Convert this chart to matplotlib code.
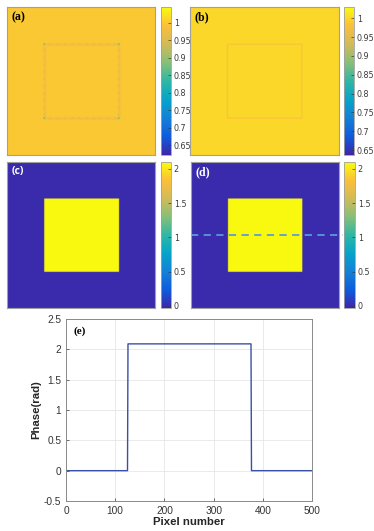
import numpy as np
import matplotlib
matplotlib.use("Agg")
import matplotlib.pyplot as plt
from matplotlib.colors import LinearSegmentedColormap

# ---------------- data ----------------
N = 500                      # image size (pixels)
sq_lo, sq_hi = 125, 376      # square object extent (pixel index)
bg_a, corner_a = 1.0, 0.88                       # panel (a) values
zigzag_a = [0.965, 0.978, 0.99, 0.978]           # edge artifact cycle (a)
bg_b, edge_b = 1.0, 0.975                        # panel (b) values
phase_bg, phase_sq = 0.0, 2.09                   # panels (c),(d) values
clim_ab_a = (0.622, 1.045)
clim_ab_b = (0.637, 1.03)
clim_cd = (-0.03, 2.1)
ticks_ab = [0.65, 0.7, 0.75, 0.8, 0.85, 0.9, 0.95, 1]
ticklabels_ab = ["0.65", "0.7", "0.75", "0.8", "0.85", "0.9", "0.95", "1"]
ticks_cd = [0, 0.5, 1, 1.5, 2]
ticklabels_cd = ["0", "0.5", "1", "1.5", "2"]
e_xticks = [0, 100, 200, 300, 400, 500]
e_yticks = [-0.5, 0, 0.5, 1, 1.5, 2, 2.5]
e_yticklabels = ["-0.5", "0", "0.5", "1", "1.5", "2", "2.5"]
profile_row = 250

parula_colors = ['#3e26a8', '#0f5cdd', '#1481d6', '#06a4ca', '#2eb7a4',
                 '#87bf77', '#d1bb59', '#fbbf3a', '#f9fb0e']
parula = LinearSegmentedColormap.from_list("parula", parula_colors, N=256)

# ---------------- build images ----------------
img_a = np.full((N, N), bg_a)
img_b = np.full((N, N), bg_b)
img_c = np.full((N, N), phase_bg)
img_c[sq_lo:sq_hi, sq_lo:sq_hi] = phase_sq
img_d = img_c.copy()

w = 4
for k in range(sq_lo, sq_hi):
    v = zigzag_a[(k // 6) % len(zigzag_a)]
    off = ((k // 6) % 2) * 3
    for e in (sq_lo, sq_hi - 1):
        img_a[e - w + off:e + w + off, k] = v
        img_a[k, e - w + off:e + w + off] = v
        img_b[e - 1:e + 2, k] = edge_b
        img_b[k, e - 1:e + 2] = edge_b
for (r, c) in [(sq_lo, sq_lo), (sq_lo, sq_hi - 1), (sq_hi - 1, sq_lo), (sq_hi - 1, sq_hi - 1)]:
    img_a[r - 3:r + 3, c - 3:c + 3] = corner_a

profile = img_d[profile_row]
xpix = np.arange(N) + 1

# ---------------- figure ----------------
W, H = 374, 531
fig = plt.figure(figsize=(W / 100, H / 100), dpi=100)

def ax_px(x0, y0, x1, y1):
    return fig.add_axes([x0 / W, 1 - y1 / H, (x1 - x0) / W, (y1 - y0) / H])

def image_panel(box, cbox, img, clim, ticks, tlabels, label, lcolor, lfamily, lsize):
    ax = ax_px(*box)
    im = ax.imshow(img, cmap=parula, vmin=clim[0], vmax=clim[1],
                   extent=(0, N, N, 0), interpolation="bilinear", aspect="auto")
    ax.set_xticks([]); ax.set_yticks([])
    for s in ax.spines.values():
        s.set_color("#a0a0a0"); s.set_linewidth(0.8)
    ax.text(0.03, 0.97, label, transform=ax.transAxes, ha="left", va="top",
            fontsize=lsize, fontweight="bold", color=lcolor, family=lfamily)
    cax = ax_px(*cbox)
    cb = fig.colorbar(im, cax=cax)
    cb.set_ticks(ticks)
    cb.set_ticklabels(tlabels)
    cax.tick_params(labelsize=5.8, length=2, direction="in", colors="#3a3a3a",
                    width=0.5, pad=2)
    cb.outline.set_edgecolor("#a0a0a0"); cb.outline.set_linewidth(0.6)
    return ax

image_panel((7, 7, 155, 155), (161, 7, 171, 155), img_a, clim_ab_a,
            ticks_ab, ticklabels_ab, "(a)", "black", "Liberation Serif", 8.5)
image_panel((190, 7, 339, 155), (344, 7, 354, 155), img_b, clim_ab_b,
            ticks_ab, ticklabels_ab, "(b)", "black", "Liberation Serif", 8.5)
image_panel((7, 162, 155, 308), (161, 162, 171, 308), img_c, clim_cd,
            ticks_cd, ticklabels_cd, "(c)", "white", "Open Sans", 7.5)
axd = image_panel((191, 162, 339, 308), (344, 162, 355, 308), img_d, clim_cd,
                  ticks_cd, ticklabels_cd, "(d)", "white", "Liberation Serif", 8.5)
axd.plot([0, N + 15], [profile_row, profile_row], color="#5b9bd5", lw=1.3,
         dashes=(4, 3), clip_on=False)
axd.set_xlim(0, N)
axd.set_ylim(N, 0)

# ---------------- panel (e) ----------------
axe = ax_px(66, 319, 312, 501)
axe.plot(xpix, profile, color="#3a4fa6", lw=1.0)
axe.set_xlim(0, 500)
axe.set_ylim(-0.5, 2.5)
axe.set_xticks(e_xticks)
axe.set_yticks(e_yticks)
axe.set_yticklabels(e_yticklabels)
axe.grid(True, color="#e6e6e6", lw=0.6)
axe.set_axisbelow(True)
for s in axe.spines.values():
    s.set_color("#8a8a8a"); s.set_linewidth(0.7)
axe.tick_params(labelsize=7.3, colors="#333333", length=2, direction="in", width=0.5)
axe.set_xlabel("Pixel number", fontsize=8.2, fontweight="bold", color="#262626",
               labelpad=1, family="Liberation Sans")
axe.set_ylabel("Phase(rad)", fontsize=8.2, fontweight="bold", color="#262626",
               labelpad=2, family="Liberation Sans")
for t in axe.get_xticklabels() + axe.get_yticklabels():
    t.set_family("Liberation Sans")
axe.text(0.03, 0.96, "(e)", transform=axe.transAxes, ha="left", va="top",
         fontsize=8, fontweight="bold", family="Liberation Serif")

fig.savefig("out.png", dpi=100)
